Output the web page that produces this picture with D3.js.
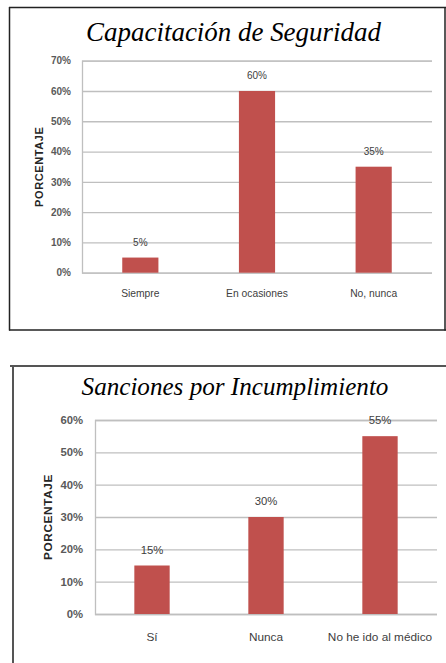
<!DOCTYPE html>
<html><head><meta charset="utf-8">
<script src="https://cdn.jsdelivr.net/npm/d3@7"></script>
<style>body{margin:0;background:#fff}svg{display:block}</style>
</head><body>
<svg id="c" width="446" height="663"></svg>
<script>
// Chart 1 data
const cats1 = ["Siempre", "En ocasiones", "No, nunca"];
const vals1 = [0.05, 0.60, 0.35];
const ticks1 = [0, 0.1, 0.2, 0.3, 0.4, 0.5, 0.6, 0.7];
const title1 = "Capacitación de Seguridad";
// Chart 2 data
const cats2 = ["Sí", "Nunca", "No he ido al médico"];
const vals2 = [0.15, 0.30, 0.55];
const ticks2 = [0, 0.1, 0.2, 0.3, 0.4, 0.5, 0.6];
const title2 = "Sanciones por Incumplimiento";
const yTitle = "PORCENTAJE";

const svg = d3.select("#c");
const pct = d3.format(".0%");

function chart(cfg) {
  const g = svg.append("g");
  // frame
  cfg.frame.forEach(f => g.append("line").attr("x1", f[0]).attr("y1", f[1]).attr("x2", f[2]).attr("y2", f[3])
    .attr("stroke", cfg.frameColor).attr("stroke-width", cfg.frameW));
  const x = d3.scaleBand().domain(cfg.cats).range([cfg.x0, cfg.x1]).paddingInner(0.69).paddingOuter(0.345);
  const y = d3.scaleLinear().domain([0, d3.max(cfg.ticks)]).range([cfg.y0, cfg.y1]);
  // gridlines
  const ya = d3.axisLeft(y).tickValues(cfg.ticks).tickFormat(pct).tickSize(-(cfg.x1 - cfg.x0)).tickPadding(cfg.tickPad);
  const ag = g.append("g").attr("transform", `translate(${cfg.x0},0)`).call(ya);
  ag.select(".domain").attr("stroke", "#bfbfbf").attr("stroke-width", 1.3);
  ag.selectAll(".tick line").attr("stroke", "#bfbfbf").attr("stroke-width", 1.3);
  ag.selectAll(".tick text").attr("font-family", "Liberation Sans, Arial, sans-serif")
    .attr("font-size", cfg.tickFs).attr("font-weight", "bold").attr("fill", "#5a5a5a");
  // bars
  g.selectAll("rect.bar").data(cfg.vals).join("rect").attr("class", "bar")
    .attr("x", (d, i) => x(cfg.cats[i])).attr("width", x.bandwidth())
    .attr("y", d => y(d)).attr("height", d => y(0) - y(d)).attr("fill", "#c0504d");
  // data labels
  g.selectAll("text.lbl").data(cfg.vals).join("text").attr("class", "lbl")
    .attr("x", (d, i) => x(cfg.cats[i]) + x.bandwidth() / 2).attr("y", d => y(d) - cfg.lblOff)
    .attr("text-anchor", "middle").attr("font-family", "Liberation Sans, Arial, sans-serif")
    .attr("font-size", cfg.tickFs).attr("fill", "#404040").text(d => pct(d));
  // category labels
  g.selectAll("text.cat").data(cfg.cats).join("text").attr("class", "cat")
    .attr("x", d => x(d) + x.bandwidth() / 2).attr("y", cfg.catY)
    .attr("text-anchor", "middle").attr("font-family", "Liberation Sans, Arial, sans-serif")
    .attr("font-size", cfg.catFs).attr("fill", "#404040").text(d => d);
  // y title
  g.append("text").attr("transform", `translate(${cfg.ytX},${(cfg.y0 + cfg.y1) / 2}) rotate(-90)`)
    .attr("text-anchor", "middle").attr("font-family", "Liberation Sans, Arial, sans-serif")
    .attr("font-size", cfg.ytFs).attr("font-weight", "bold").attr("letter-spacing", cfg.ytLs)
    .attr("fill", "#262626").text(yTitle);
  // title, sized to the measured width
  const t = g.append("text").attr("x", cfg.tX).attr("y", cfg.tY).attr("text-anchor", "middle")
    .attr("font-family", "Liberation Serif, Times New Roman, serif").attr("font-style", "italic")
    .attr("font-size", 100).attr("fill", "#000").text(cfg.title);
  const w = t.node().getComputedTextLength();
  t.attr("font-size", 100 * cfg.tW / w);
}

chart({cats: cats1, vals: vals1, ticks: ticks1, title: title1,
  x0: 82, x1: 432, y0: 272.7, y1: 60.7, tickPad: 11, tickFs: 10, catFs: 10.3, catY: 297,
  lblOff: 12, ytX: 43, ytFs: 11, ytLs: 0.6, tX: 233.5, tY: 41, tW: 295,
  frame: [[9, 7.5, 446, 7.5], [9.5, 7, 9.5, 330.5], [9, 330, 446, 330], [445, 7, 445, 330.5]],
  frameColor: "#222", frameW: 1.5});

chart({cats: cats2, vals: vals2, ticks: ticks2, title: title2,
  x0: 95, x1: 437, y0: 614, y1: 420, tickPad: 12, tickFs: 11.3, catFs: 11.8, catY: 641,
  lblOff: 12, ytX: 52, ytFs: 11.8, ytLs: 0.6, tX: 235, tY: 395, tW: 307,
  frame: [[10, 366, 446, 366], [13, 365, 13, 663]],
  frameColor: "#555", frameW: 2});
</script>
</body></html>
